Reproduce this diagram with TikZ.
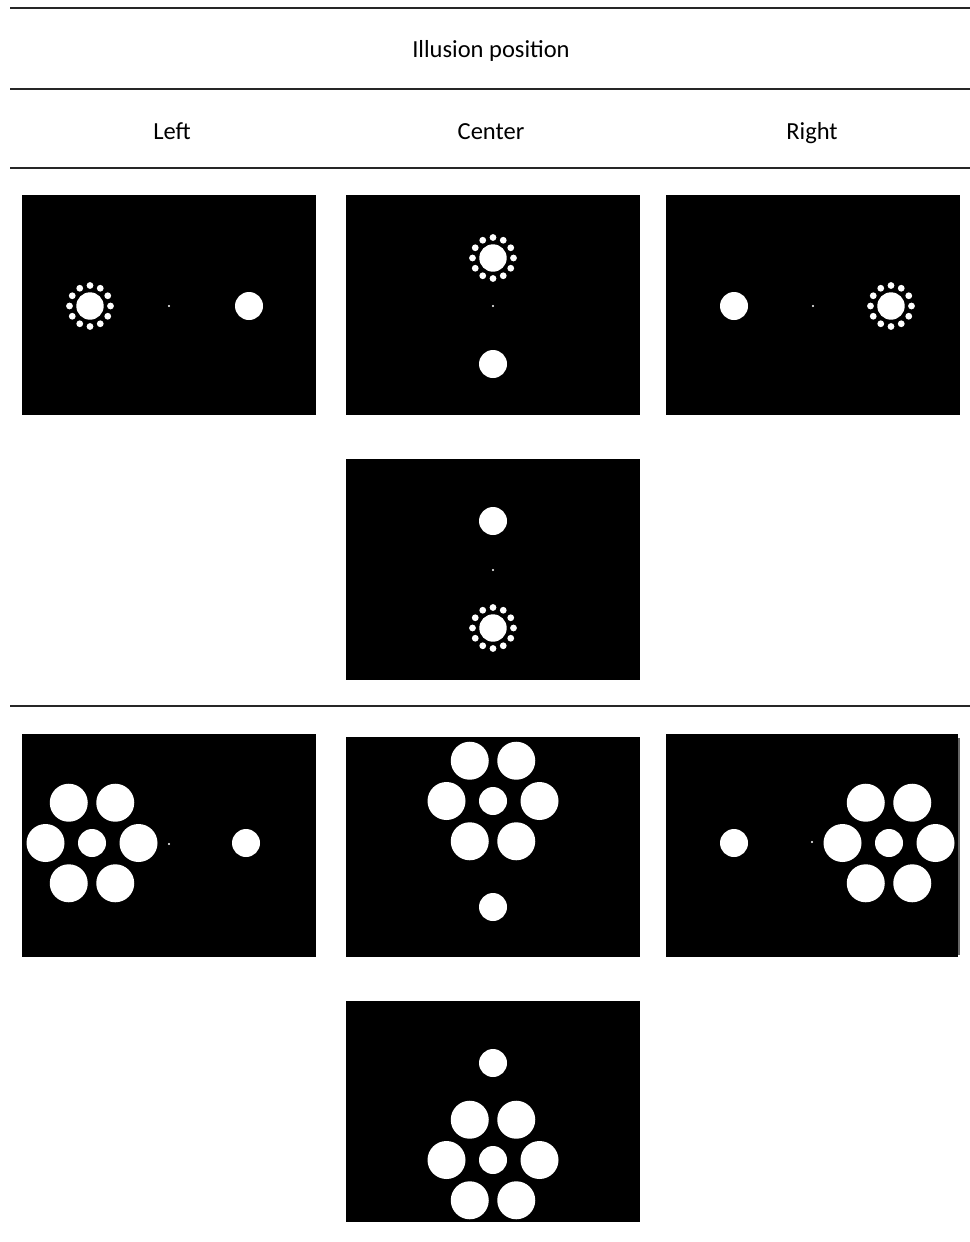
\documentclass[tikz,border=0pt]{standalone}
\usepackage{fontspec}
\setmainfont{Carlito}
\newcommand\ringstim[1]{%
  \fill[white] (#1) circle (13.7);
  \foreach \a in {0,30,...,330}{\fill[white] (#1) ++(\a:20.5) circle (3.4);}}
\newcommand\ebbstim[1]{%
  \fill[white] (#1) circle (14);
  \foreach \a in {0,60,...,300}{\fill[white] (#1) ++(\a:46.5) circle (19);}}
\newcommand\plainstim[1]{\fill[white] (#1) circle (14);}
\newcommand\fixdot[1]{\fill[white] (#1) circle (1.1);}
\begin{document}
\begin{tikzpicture}[x=0.75pt,y=-0.75pt,
  rule/.style={line width=1.1pt,draw=black!85},
  hdr/.style={font=\fontsize{18.4pt}{22pt}\selectfont,inner sep=0pt,anchor=base},
  panel/.style={fill=black}]
\useasboundingbox (0,0) rectangle (970,1242);
\fill[white] (0,0) rectangle (970,1242);
% rules
\draw[rule] (10,8) -- (970,8);
\draw[rule] (10,89) -- (970,89);
\draw[rule] (10,168) -- (970,168);
\draw[rule] (10,706) -- (970,706);
% headers
\node[hdr] (title) at (491,57.5) {Illusion position};
\node[hdr] (left) at (172,139.5) {Left};
\node[hdr] (center) at (491,139.5) {Center};
\node[hdr] (right) at (812,139.5) {Right};
% row 1
\fill[panel] (22,195) rectangle (316,415);
\ringstim{90,306} \plainstim{249,306} \fixdot{169,306}
\fill[panel] (346,195) rectangle (640,415);
\ringstim{493,258} \plainstim{493,364} \fixdot{493,306}
\fill[panel] (666,195) rectangle (960,415);
\plainstim{734,306} \ringstim{891,306} \fixdot{813,306}
% row 2
\fill[panel] (346,459) rectangle (640,680);
\plainstim{493,521} \fixdot{493,570} \ringstim{493,628}
% row 3
\fill[panel] (22,734) rectangle (316,957);
\ebbstim{92,843} \plainstim{246,843} \fixdot{169,844}
\fill[panel] (346,737) rectangle (640,957);
\ebbstim{493,801} \plainstim{493,907}
\fill[panel] (666,734) rectangle (958,957);
\draw[black!60,line width=0.8pt] (959,738) -- (959,955);
\plainstim{734,843} \ebbstim{889,843} \fixdot{812,842}
% row 4
\fill[panel] (346,1001) rectangle (640,1222);
\plainstim{493,1063} \ebbstim{493,1160}
\end{tikzpicture}
\end{document}
